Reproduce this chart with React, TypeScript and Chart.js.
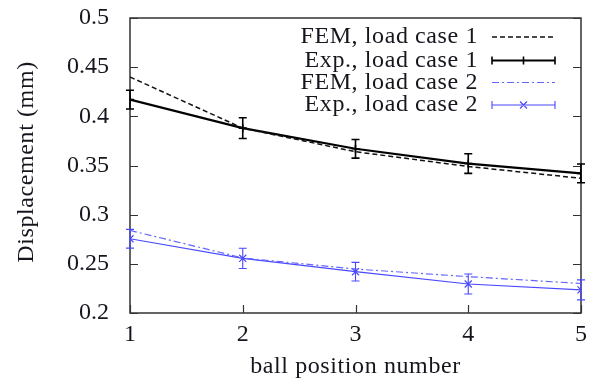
import React, { useEffect, useRef } from "react";
import { Chart, registerables } from "chart.js";

Chart.register(...registerables);

const positions = [1, 2, 3, 4, 5];
const femCase1 = [0.44, 0.388, 0.364, 0.349, 0.337];
const expCase1 = [0.417, 0.388, 0.367, 0.352, 0.342];
const expCase1Err = [0.0095, 0.0105, 0.0095, 0.01, 0.0095];
const femCase2 = [0.284, 0.256, 0.2447, 0.237, 0.23];
const expCase2 = [0.2755, 0.2556, 0.242, 0.2295, 0.2235];
const expCase2Err = [0.0095, 0.0103, 0.0095, 0.0102, 0.0102];
const yTicks = [0.2, 0.25, 0.3, 0.35, 0.4, 0.45, 0.5];
const xTicks = [1, 2, 3, 4, 5];
const seriesLabels = [
  "FEM, load case 1",
  "Exp., load case 1",
  "FEM, load case 2",
  "Exp., load case 2",
];
const xTitle = "ball position number";
const yTitle = "Displacement (mm)";

const FONT = "'Liberation Serif', 'Times New Roman', serif";
const TEXT = "#15151d";
const AXIS = "#333333";
const BLUE = "rgb(72,72,255)";
const BLUE2 = "rgb(100,100,255)";

const errors: Record<number, number[]> = { 1: expCase1Err, 3: expCase2Err };

const drawCaps = (ctx: CanvasRenderingContext2D, x: number, y1: number, y2: number, w: number) => {
  ctx.beginPath();
  ctx.moveTo(x, y1);
  ctx.lineTo(x, y2);
  ctx.moveTo(x - w, y1);
  ctx.lineTo(x + w, y1);
  ctx.moveTo(x - w, y2);
  ctx.lineTo(x + w, y2);
  ctx.stroke();
};

const framePlugin = {
  id: "frame",
  beforeDatasetsDraw(chart: any) {
    const { ctx, chartArea: a, scales } = chart;
    ctx.save();
    ctx.strokeStyle = AXIS;
    ctx.lineWidth = 1.5;
    ctx.strokeRect(a.left, a.top, a.right - a.left, a.bottom - a.top);
    ctx.lineWidth = 1.2;
    ctx.beginPath();
    yTicks.forEach((v) => {
      const y = Math.round(scales.y.getPixelForValue(v)) + 0.5;
      ctx.moveTo(a.left, y);
      ctx.lineTo(a.left + 8, y);
      ctx.moveTo(a.right, y);
      ctx.lineTo(a.right - 8, y);
    });
    xTicks.forEach((v) => {
      const x = Math.round(scales.x.getPixelForValue(v)) + 0.5;
      ctx.moveTo(x, a.bottom);
      ctx.lineTo(x, a.bottom - 8);
    });
    ctx.stroke();
    ctx.restore();
  },
  afterDatasetsDraw(chart: any) {
    const { ctx, scales } = chart;
    ctx.save();
    Object.keys(errors).forEach((k) => {
      const di = Number(k);
      const ds = chart.data.datasets[di];
      const err = errors[di];
      ctx.strokeStyle = ds.borderColor;
      ctx.lineWidth = di === 1 ? 1.6 : 1.1;
      ds.data.forEach((pt: any, i: number) => {
        const x = scales.x.getPixelForValue(pt.x);
        const y1 = scales.y.getPixelForValue(pt.y + err[i]);
        const y2 = scales.y.getPixelForValue(pt.y - err[i]);
        drawCaps(ctx, x, y1, y2, 4);
      });
    });
    ctx.restore();
  },
  afterDraw(chart: any) {
    const { ctx, chartArea: a } = chart;
    ctx.save();
    ctx.fillStyle = TEXT;
    ctx.font = `24px ${FONT}`;
    (ctx as any).letterSpacing = "0.6px";
    // axis titles
    ctx.textAlign = "center";
    ctx.textBaseline = "alphabetic";
    ctx.fillText(xTitle, (a.left + a.right) / 2, 373);
    ctx.save();
    ctx.translate(33, 162);
    ctx.rotate(-Math.PI / 2);
    ctx.fillText(yTitle, 0, 0);
    ctx.restore();
    // legend
    const rows = [37, 60.5, 82.5, 105];
    const textRight = 478;
    const x1 = 492;
    const x2 = 555;
    chart.data.datasets.forEach((ds: any, i: number) => {
      const y = rows[i];
      ctx.textAlign = "right";
      ctx.textBaseline = "alphabetic";
      ctx.fillStyle = TEXT;
      ctx.fillText(ds.label, textRight, y + 6);
      ctx.strokeStyle = ds.borderColor;
      ctx.lineWidth = ds.borderWidth;
      ctx.setLineDash(ds.borderDash || []);
      ctx.beginPath();
      ctx.moveTo(x1, y);
      ctx.lineTo(x2, y);
      ctx.stroke();
      ctx.setLineDash([]);
      if (errors[i]) {
        ctx.lineWidth = i === 1 ? 1.6 : 1.1;
        ctx.beginPath();
        ctx.moveTo(x1, y - 4);
        ctx.lineTo(x1, y + 4);
        ctx.moveTo(x2, y - 4);
        ctx.lineTo(x2, y + 4);
        const xm = (x1 + x2) / 2;
        if (i === 1) {
          ctx.moveTo(xm, y - 4);
          ctx.lineTo(xm, y + 4);
        } else {
          ctx.moveTo(xm - 3.5, y - 3.5);
          ctx.lineTo(xm + 3.5, y + 3.5);
          ctx.moveTo(xm - 3.5, y + 3.5);
          ctx.lineTo(xm + 3.5, y - 3.5);
        }
        ctx.stroke();
      }
    });
    ctx.restore();
  },
};

const toPts = (vals: number[]) => positions.map((x, i) => ({ x, y: vals[i] }));

const zeroPad = (s: any) => {
  s.paddingTop = 0;
  s.paddingBottom = 0;
  s.paddingLeft = 0;
  s.paddingRight = 0;
};

export default function App() {
  const ref = useRef<HTMLCanvasElement>(null);
  useEffect(() => {
    if (!ref.current) return;
    const chart = new Chart(ref.current, {
      type: "line",
      data: {
        datasets: [
          {
            label: seriesLabels[0],
            data: toPts(femCase1),
            borderColor: "#111111",
            borderWidth: 1.5,
            borderDash: [5, 3],
            pointRadius: 0,
            tension: 0,
          },
          {
            label: seriesLabels[1],
            data: toPts(expCase1),
            borderColor: "#000000",
            borderWidth: 2.2,
            pointStyle: "cross",
            pointRadius: 4,
            pointBorderWidth: 1.6,
            tension: 0,
          },
          {
            label: seriesLabels[2],
            data: toPts(femCase2),
            borderColor: BLUE2,
            borderWidth: 1.2,
            borderDash: [7, 3, 2, 3],
            pointRadius: 0,
            tension: 0,
          },
          {
            label: seriesLabels[3],
            data: toPts(expCase2),
            borderColor: BLUE,
            borderWidth: 1.2,
            pointStyle: "crossRot",
            pointRadius: 5,
            pointBorderWidth: 1.2,
            tension: 0,
          },
        ] as any,
      },
      options: {
        animation: false,
        responsive: false,
        devicePixelRatio: 1,
        layout: { padding: { left: 0, top: 18, right: 13, bottom: 0 } },
        plugins: { legend: { display: false }, tooltip: { enabled: false } },
        scales: {
          x: {
            type: "linear",
            min: 1,
            max: 5,
            grid: { display: false },
            border: { display: false },
            afterFit: (s: any) => {
              s.height = 67;
              zeroPad(s);
            },
            afterBuildTicks: (s: any) => {
              s.ticks = xTicks.map((v) => ({ value: v }));
            },
            ticks: {
              color: TEXT,
              padding: -1,
              font: { family: FONT, size: 24 },
              callback: (v: any) => String(v),
            },
          },
          y: {
            type: "linear",
            min: 0.2,
            max: 0.5,
            grid: { display: false },
            border: { display: false },
            afterFit: (s: any) => {
              s.width = 130;
              zeroPad(s);
            },
            afterBuildTicks: (s: any) => {
              s.ticks = yTicks.map((v) => ({ value: v }));
            },
            ticks: {
              color: TEXT,
              padding: 13,
              font: { family: FONT, size: 24 },
              callback: (v: any) => String(Math.round(v * 100) / 100),
            },
          },
        },
      },
      plugins: [framePlugin],
    });
    return () => chart.destroy();
  }, []);
  return (
    <div style={{ position: "fixed", left: 0, top: 0, width: 594, height: 380, background: "#fff" }}>
      <canvas ref={ref} width={594} height={380} style={{ width: 594, height: 380, display: "block" }} />
    </div>
  );
}
